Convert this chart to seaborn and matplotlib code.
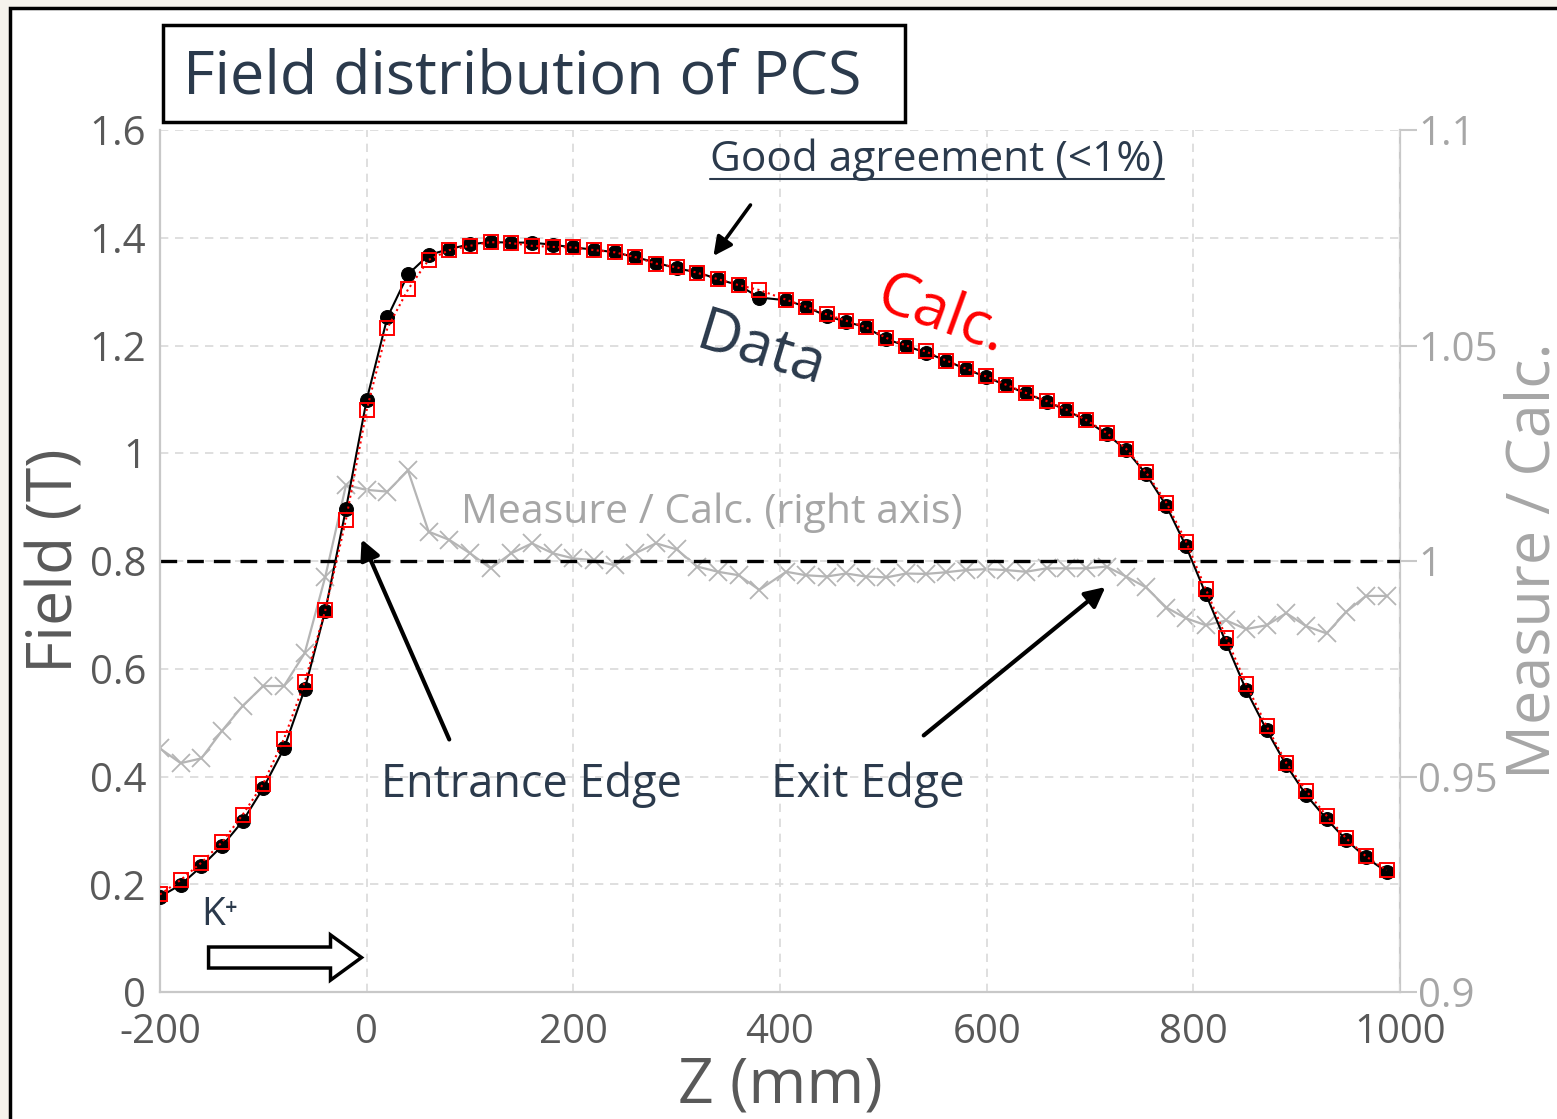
import matplotlib
matplotlib.use("Agg")
import matplotlib.pyplot as plt
import matplotlib.patches as mpatches
from matplotlib.lines import Line2D
import seaborn as sns

# data
z_mm = [-200, -180, -160, -140, -120, -100, -80, -60, -40, -20,
        0, 20, 40, 60, 80, 100, 120, 140, 160, 180,
        200, 220, 240, 260, 280, 300, 320, 340, 360, 380,
        406, 425, 445, 464, 483, 503, 522, 541, 561, 580,
        599, 619, 638, 658, 677, 696, 716, 735, 754, 774,
        793, 812, 832, 851, 871, 890, 909, 929, 948, 967, 987]
field_data = [0.177, 0.199, 0.233, 0.271, 0.317, 0.379, 0.452, 0.562, 0.708, 0.897,
              1.099, 1.252, 1.332, 1.368, 1.379, 1.388, 1.392, 1.391, 1.391, 1.387,
              1.382, 1.378, 1.373, 1.364, 1.354, 1.343, 1.336, 1.323, 1.312, 1.289,
              1.284, 1.272, 1.255, 1.244, 1.234, 1.212, 1.199, 1.187, 1.172, 1.156,
              1.142, 1.126, 1.111, 1.096, 1.080, 1.061, 1.036, 1.006, 0.962, 0.902,
              0.827, 0.739, 0.647, 0.561, 0.486, 0.421, 0.366, 0.321, 0.282, 0.250, 0.223]
field_calc = [0.181, 0.208, 0.240, 0.278, 0.329, 0.387, 0.470, 0.575, 0.709, 0.877,
              1.080, 1.232, 1.304, 1.359, 1.377, 1.385, 1.392, 1.390, 1.385, 1.383,
              1.382, 1.377, 1.373, 1.364, 1.352, 1.345, 1.335, 1.323, 1.312, 1.303,
              1.285, 1.272, 1.258, 1.246, 1.234, 1.214, 1.200, 1.189, 1.172, 1.157,
              1.143, 1.127, 1.112, 1.097, 1.081, 1.062, 1.038, 1.008, 0.965, 0.908,
              0.836, 0.748, 0.657, 0.572, 0.493, 0.425, 0.374, 0.327, 0.285, 0.252, 0.226]
ratio = [0.9565, 0.9531, 0.9542, 0.9606, 0.9664, 0.9710, 0.9710, 0.9786, 0.9964, 1.0176,
         1.0165, 1.0161, 1.0210, 1.0068, 1.0049, 1.0018, 0.9983, 1.0018, 1.0041, 1.0018,
         1.0006, 1.0002, 0.9990, 1.0018, 1.0041, 1.0027, 0.9987, 0.9975, 0.9967, 0.9933,
         0.9975, 0.9967, 0.9964, 0.9971, 0.9964, 0.9962, 0.9971, 0.9970, 0.9974, 0.9979,
         0.9981, 0.9979, 0.9975, 0.9983, 0.9983, 0.9983, 0.9987, 0.9964, 0.9939, 0.9892,
         0.9867, 0.9851, 0.9862, 0.9842, 0.9851, 0.9879, 0.9849, 0.9832, 0.9882, 0.9919, 0.9919]

x_ticks = [-200, 0, 200, 400, 600, 800, 1000]
x_labels = ["-200", "0", "200", "400", "600", "800", "1000"]
y_ticks = [0, 0.2, 0.4, 0.6, 0.8, 1.0, 1.2, 1.4, 1.6]
y_labels = ["0", "0.2", "0.4", "0.6", "0.8", "1", "1.2", "1.4", "1.6"]
r_ticks = [0.9, 0.95, 1.0, 1.05, 1.1]
r_labels = ["0.9", "0.95", "1", "1.05", "1.1"]

sns.set_theme(style="white")
plt.rcParams["font.family"] = ["Open Sans", "DejaVu Sans"]

W, H = 1557, 1119
DARK = "#2b3a4c"
AXGRAY = "#595959"
LIGHT = "#a6a6a6"

fig = plt.figure(figsize=(W / 100, H / 100), dpi=100)
fig.patch.set_facecolor("#f6f3ec")
# outer slide frame
fig.patches.append(mpatches.Rectangle((10 / W, -0.05), 1.1, 1.05 - 8 / H,
                                      transform=fig.transFigure, facecolor="white",
                                      edgecolor="black", lw=2.5, zorder=-5))

ax = fig.add_axes([160 / W, 1 - 992 / H, 1240 / W, 862 / H])
ax2 = ax.twinx()
ax.set_zorder(2)
ax2.set_zorder(1)
ax.patch.set_visible(False)
ax2.patch.set_visible(False)

# ratio on right axis
sns.lineplot(x=z_mm, y=ratio, ax=ax2, color="#b5b5b5", lw=1.6, marker="x",
             markersize=13, markeredgewidth=1.3, markeredgecolor="#b5b5b5")

# field data / calc
sns.lineplot(x=z_mm, y=field_data, ax=ax, color="black", lw=1.5, marker="o",
             markersize=10, markeredgecolor="black", zorder=3)
sns.lineplot(x=z_mm, y=field_calc, ax=ax, color="red", lw=1.5, linestyle=":",
             marker="s", markersize=10, markerfacecolor="none",
             markeredgecolor="red", markeredgewidth=1.4, zorder=4)

ax.axhline(0.8, color="black", lw=2.4, dashes=(5, 3), zorder=2)

ax.set_xlim(-200, 1000)
ax.set_ylim(0, 1.6)
ax2.set_ylim(0.9, 1.1)
ax.set_xticks(x_ticks, x_labels)
ax.set_yticks(y_ticks, y_labels)
ax2.set_yticks(r_ticks, r_labels)

ax.grid(True, color="#d9d9d9", lw=1.2, dashes=(5, 4))
ax.tick_params(axis="both", length=0, labelsize=29, labelcolor=AXGRAY, pad=10)
ax.tick_params(axis="x", pad=15)
ax2.tick_params(axis="y", length=12, width=1.5, color="#c8c8c8", labelsize=29,
                labelcolor=LIGHT, pad=1, right=True)

for a in (ax, ax2):
    for s in a.spines.values():
        s.set_color("#c8c8c8")
        s.set_linewidth(1.6)
    a.spines["top"].set_visible(False)
ax.spines["right"].set_visible(False)
ax2.spines["left"].set_visible(False)
ax2.spines["bottom"].set_visible(False)

ax.set_xlabel("Z (mm)", fontsize=45, color=AXGRAY)
ax.xaxis.set_label_coords(0.5, -0.073)
ax.set_ylabel("Field (T)", fontsize=45, color=AXGRAY, va="center")
ax.yaxis.set_label_coords(-0.084, 0.5)
ax2.set_ylabel("Measure / Calc.", fontsize=44, color=LIGHT, va="center", rotation=90)
ax2.yaxis.set_label_coords(1.108, 0.5)

# title box
fig.patches.append(mpatches.Rectangle((163 / W, 1 - 122 / H), 742 / W, 97 / H,
                                      transform=fig.transFigure, facecolor="white",
                                      edgecolor="black", lw=2.5, zorder=5))
fig.text(522 / W, 1 - 77 / H, "Field distribution of PCS", fontsize=44, color=DARK,
         ha="center", va="center", zorder=6)

# annotations
ax.text(381, 1.19, "Data", fontsize=43, color=DARK, rotation=-17,
        ha="center", va="center", rotation_mode="anchor")
ax.text(556, 1.257, "Calc.", fontsize=44, color="red", rotation=-20,
        ha="center", va="center", rotation_mode="anchor")
ax.text(334, 0.89, "Measure / Calc. (right axis)", fontsize=29.5, color=LIGHT,
        ha="center", va="center")
good = ax.text(552, 1.544, "Good agreement (<1%)", fontsize=30.5, color=DARK,
               ha="center", va="center")
ax.annotate("", xy=(334, 1.362), xytext=(373, 1.465),
            arrowprops=dict(arrowstyle="-|>", lw=2.6, color="black", mutation_scale=28))
ax.text(159, 0.385, "Entrance Edge", fontsize=32.5, color=DARK, ha="center", va="center")
ax.annotate("", xy=(-6, 0.845), xytext=(81, 0.464),
            arrowprops=dict(arrowstyle="-|>", lw=3, color="black", mutation_scale=30))
ax.text(485, 0.385, "Exit Edge", fontsize=33, color=DARK, ha="center", va="center")
ax.annotate("", xy=(717, 0.755), xytext=(537, 0.473),
            arrowprops=dict(arrowstyle="-|>", lw=3, color="black", mutation_scale=30))

ax.text(-160, 0.142, "K⁺", fontsize=28, color=DARK, ha="left", va="center")
ax.add_patch(mpatches.FancyArrow(-153, 0.064, 148, 0, width=0.039, head_width=0.084,
                                 head_length=30, length_includes_head=True,
                                 facecolor="white", edgecolor="black", lw=2.5, zorder=5))

# underline for the agreement note
fig.canvas.draw()
bb = good.get_window_extent(fig.canvas.get_renderer())
fig.lines.append(Line2D([bb.x0 / W, bb.x1 / W], [(bb.y0 + 2) / H, (bb.y0 + 2) / H],
                        transform=fig.transFigure, color=DARK, lw=1.5))

fig.savefig("out.png", dpi=100, facecolor=fig.get_facecolor())
